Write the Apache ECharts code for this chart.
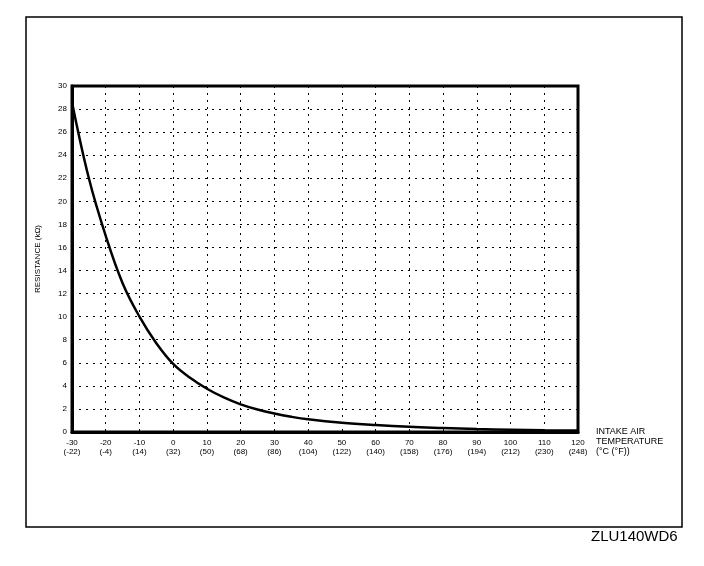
<!DOCTYPE html>
<html>
<head>
<meta charset="utf-8">
<script src="https://cdn.jsdelivr.net/npm/echarts@6/dist/echarts.min.js"></script>
<style>
html,body{margin:0;padding:0;background:#fff;}
#chart{width:704px;height:566px;}
</style>
</head>
<body>
<div id="chart"></div>
<script>
// Temperature (°C) and resistance (kΩ)
const temperaturesC = [-30, -25, -20, -15, -10, -5, 0, 5, 10, 15, 20, 25, 30, 35, 40, 50, 60, 70, 80, 90, 100, 110, 120];
const resistanceK  = [28.6, 22.0, 17.0, 12.9, 10.0, 7.7, 5.9, 4.7, 3.75, 3.0, 2.4, 1.95, 1.6, 1.32, 1.1, 0.8, 0.6, 0.45, 0.35, 0.26, 0.2, 0.15, 0.12];
// Tick labels: °C with °F underneath
const tickC = [-30, -20, -10, 0, 10, 20, 30, 40, 50, 60, 70, 80, 90, 100, 110, 120];
const tickF = ['(-22)', '(-4)', '(14)', '(32)', '(50)', '(68)', '(86)', '(104)', '(122)', '(140)', '(158)', '(176)', '(194)', '(212)', '(230)', '(248)'];
const yTicks = [0, 2, 4, 6, 8, 10, 12, 14, 16, 18, 20, 22, 24, 26, 28, 30];
const xAxisName = 'INTAKE AIR\nTEMPERATURE\n(°C (°F))';
const yAxisName = 'RESISTANCE (kΩ)';
const figureCode = 'ZLU140WD6';

const chart = echarts.init(document.getElementById('chart'), null, {renderer: 'canvas'});
const FONT = 'Liberation Sans, Arial, sans-serif';
const points = temperaturesC.map((t, i) => [t, resistanceK[i]]);

chart.setOption({
  animation: false,
  backgroundColor: '#fff',
  grid: {
    left: 72, top: 86, width: 506, height: 346,
    show: true, borderColor: '#000', borderWidth: 3, backgroundColor: 'transparent'
  },
  xAxis: {
    type: 'value',
    min: tickC[0], max: tickC[tickC.length - 1], interval: 10,
    name: xAxisName,
    nameLocation: 'end',
    nameGap: 18,
    nameTextStyle: {
      fontFamily: FONT, fontSize: 9, color: '#000', align: 'left',
      verticalAlign: 'top', lineHeight: 10, padding: [-5, 0, 0, 0]
    },
    axisLine: {show: true, onZero: false, lineStyle: {color: '#000', width: 3}},
    axisTick: {show: false},
    axisLabel: {
      fontFamily: FONT, fontSize: 8, color: '#000', margin: 6, lineHeight: 9,
      formatter: function (v) {
        const i = tickC.indexOf(v);
        return i >= 0 ? tickC[i] + '\n' + tickF[i] : '';
      }
    },
    splitLine: {show: true, lineStyle: {color: '#000', width: 1, type: [2, 5]}}
  },
  yAxis: {
    type: 'value',
    min: yTicks[0], max: yTicks[yTicks.length - 1], interval: 2,
    name: yAxisName,
    nameLocation: 'middle',
    nameGap: 30,
    nameRotate: 90,
    nameTextStyle: {fontFamily: FONT, fontSize: 8, color: '#000'},
    axisLine: {show: true, onZero: false, lineStyle: {color: '#000', width: 3}},
    axisTick: {show: false},
    axisLabel: {fontFamily: FONT, fontSize: 8, color: '#000', margin: 5},
    splitLine: {show: true, lineStyle: {color: '#000', width: 1, type: [2, 5]}}
  },
  series: [{
    type: 'line',
    data: points,
    smooth: 0.4,
    showSymbol: false,
    lineStyle: {color: '#000', width: 2.5},
    z: 5
  }],
  graphic: [
    {
      type: 'rect', silent: true, z: -1,
      shape: {x: 26, y: 17, width: 656, height: 510},
      style: {fill: 'none', stroke: '#000', lineWidth: 1.5}
    },
    {
      type: 'text', left: 591, top: 529,
      style: {text: figureCode, fontFamily: FONT, fontSize: 15, fill: '#000'}
    }
  ]
});
</script>
</body>
</html>
